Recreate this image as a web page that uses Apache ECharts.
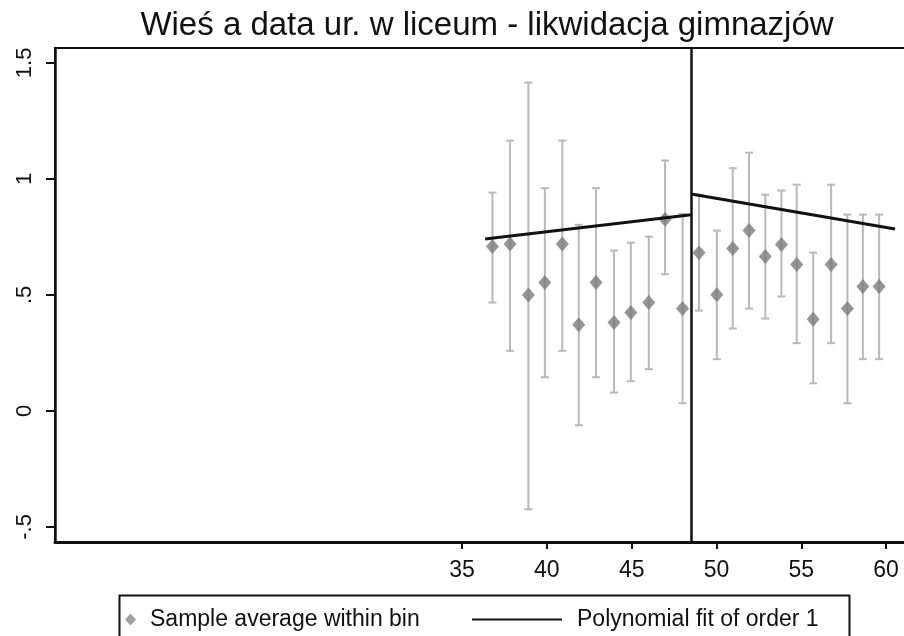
<!DOCTYPE html>
<html>
<head>
<meta charset="utf-8">
<script src="https://cdn.jsdelivr.net/npm/echarts@6/dist/echarts.min.js"></script>
<style>html,body{margin:0;padding:0;background:#fff;}#main{width:904px;height:636px;}</style>
</head>
<body>
<div id="main"></div>
<script>
const titleText = 'Wieś a data ur. w liceum - likwidacja gimnazjów';
const binX = [36.79, 37.83, 38.91, 39.88, 40.91, 41.88, 42.90, 43.96, 44.95, 46.01, 46.97, 48.00,
              48.97, 50.02, 50.96, 51.92, 52.88, 53.83, 54.73, 55.70, 56.76, 57.72, 58.63, 59.59];
const binMean = [0.708, 0.719, 0.500, 0.553, 0.719, 0.371, 0.553, 0.381, 0.424, 0.467, 0.826, 0.441,
                 0.682, 0.501, 0.700, 0.777, 0.665, 0.717, 0.631, 0.395, 0.631, 0.441, 0.536, 0.536];
const ciHigh = [0.941, 1.165, 1.415, 0.960, 1.165, 0.802, 0.960, 0.691, 0.725, 0.751, 1.079, 0.849,
                0.932, 0.777, 1.046, 1.113, 0.932, 0.950, 0.975, 0.682, 0.975, 0.846, 0.846, 0.846];
const ciLow = [0.467, 0.259, -0.424, 0.145, 0.259, -0.062, 0.145, 0.079, 0.128, 0.180, 0.589, 0.033,
               0.432, 0.223, 0.355, 0.441, 0.398, 0.493, 0.292, 0.119, 0.292, 0.033, 0.223, 0.223];
const fitLeftX = [36.36, 48.5];
const fitLeftY = [0.741, 0.845];
const fitRightX = [48.5, 60.53];
const fitRightY = [0.935, 0.784];
const cutoff = 48.5;
const xTicks = [35, 40, 45, 50, 55, 60];
const yTicks = [-0.5, 0, 0.5, 1, 1.5];
const yTickLabels = ['-.5', '0', '.5', '1', '1.5'];
const legendNames = ['Sample average within bin', 'Polynomial fit of order 1'];

const FONT = '"Liberation Sans", Arial, sans-serif';
const chart = echarts.init(document.getElementById('main'), null, {renderer: 'canvas'});

const pts = binX.map((x, i) => [x, binMean[i]]);
const ci = binX.map((x, i) => [x, ciLow[i], ciHigh[i]]);
const fitL = fitLeftX.map((x, i) => [x, fitLeftY[i]]);
const fitR = fitRightX.map((x, i) => [x, fitRightY[i]]);

const option = {
  backgroundColor: '#ffffff',
  animation: false,
  title: {
    text: titleText, left: 482, top: 4, textAlign: 'center',
    textStyle: {fontFamily: FONT, fontSize: 33, fontWeight: 'normal', color: '#111'}
  },
  grid: {left: 55, width: 855, top: 48, bottom: 94, containLabel: false, outerBoundsMode: 'none',
         show: true, borderColor: '#111', borderWidth: 2, backgroundColor: 'transparent'},
  xAxis: {
    type: 'value', min: 11.0, max: 61.41,
    axisLine: {show: true, onZero: false, lineStyle: {color: '#111', width: 3}},
    axisTick: {show: true, length: 7, customValues: xTicks, lineStyle: {color: '#111', width: 2}},
    axisLabel: {customValues: xTicks, margin: 17, fontFamily: FONT, fontSize: 23, color: '#111'},
    splitLine: {show: false}
  },
  yAxis: {
    type: 'value', min: -0.565, max: 1.564,
    axisLine: {show: true, onZero: false, lineStyle: {color: '#111', width: 2.5}},
    axisTick: {show: true, length: 9, customValues: yTicks, lineStyle: {color: '#111', width: 2}},
    axisLabel: {
      customValues: yTicks, rotate: 90, margin: 19, fontFamily: FONT, fontSize: 22, color: '#111',
      formatter: function (v) { const i = yTicks.findIndex(t => Math.abs(t - v) < 1e-6); return i >= 0 ? yTickLabels[i] : ''; }
    },
    splitLine: {show: false}
  },
  legend: [
    {
      data: [{name: legendNames[0], icon: 'diamond'}],
      left: 120, top: 603, itemWidth: 11, itemHeight: 12,
      textStyle: {fontFamily: FONT, fontSize: 23, color: '#111', padding: [0, 0, 0, 9]},
      itemStyle: {color: '#888'}
    },
    {
      data: [{name: legendNames[1], icon: 'rect'}],
      left: 467, top: 603, itemWidth: 90, itemHeight: 2,
      textStyle: {fontFamily: FONT, fontSize: 23, color: '#111', padding: [0, 0, 0, 10]},
      itemStyle: {color: '#111'}
    }
  ],
  graphic: [
    {type: 'rect', left: 117, top: 593, shape: {width: 730, height: 60}, style: {fill: 'none', stroke: '#111', lineWidth: 2}, silent: true}
  ],
  series: [
    {
      type: 'custom', name: 'ci', data: ci, z: 2, silent: true,
      renderItem: function (params, api) {
        const x = api.value(0);
        const lo = api.coord([x, api.value(1)]);
        const hi = api.coord([x, api.value(2)]);
        const cap = 4;
        const st = {stroke: '#b8b8b8', lineWidth: 2};
        return {type: 'group', children: [
          {type: 'line', shape: {x1: lo[0], y1: lo[1], x2: hi[0], y2: hi[1]}, style: st},
          {type: 'line', shape: {x1: lo[0] - cap, y1: lo[1], x2: lo[0] + cap, y2: lo[1]}, style: st},
          {type: 'line', shape: {x1: hi[0] - cap, y1: hi[1], x2: hi[0] + cap, y2: hi[1]}, style: st}
        ]};
      }
    },
    {
      type: 'scatter', name: legendNames[0], data: pts, symbol: 'diamond', symbolSize: [13, 15], z: 3,
      itemStyle: {color: '#7a7a7a'}
    },
    {
      type: 'line', name: legendNames[1], data: fitL, symbol: 'none', z: 4,
      lineStyle: {color: '#111', width: 3},
      markLine: {
        silent: true, symbol: ['none', 'none'], label: {show: false},
        lineStyle: {color: '#111', width: 2.5, type: 'solid'},
        data: [{xAxis: cutoff}]
      }
    },
    {
      type: 'line', name: legendNames[1], data: fitR, symbol: 'none', z: 4,
      lineStyle: {color: '#111', width: 3}
    }
  ]
};
chart.setOption(option);
</script>
</body>
</html>
